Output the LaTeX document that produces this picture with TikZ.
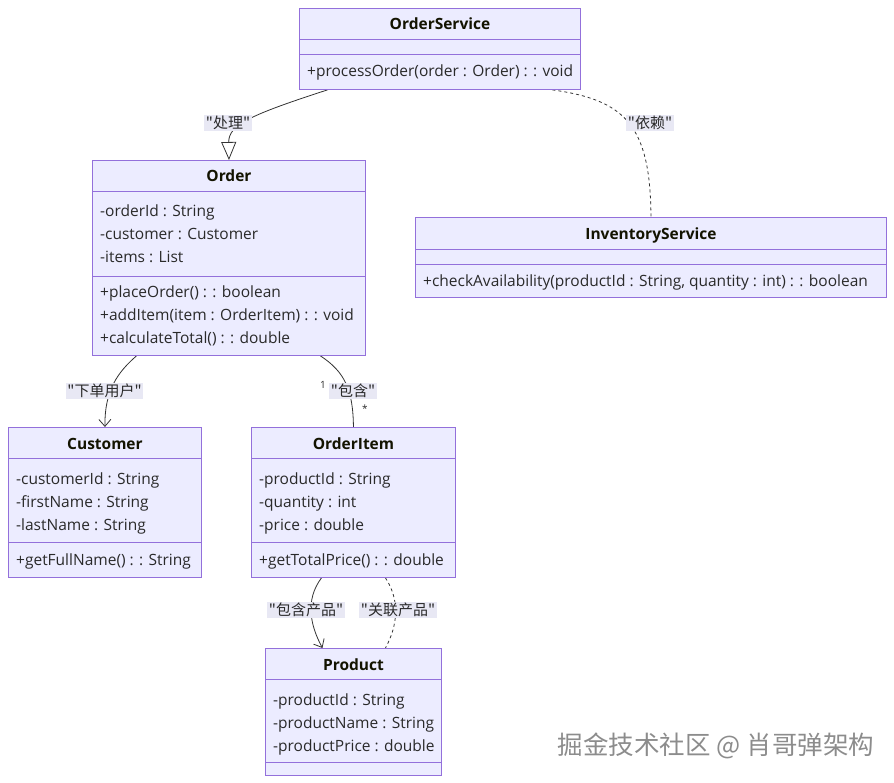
\documentclass[tikz,border=0pt]{standalone}
\usepackage{fontspec}
\setmainfont{Open Sans}
\newfontfamily\cjk{Noto Sans CJK SC}
\usetikzlibrary{arrows.meta, backgrounds}
\definecolor{umlfill}{HTML}{ECECFF}
\definecolor{umlline}{HTML}{9370DB}
\definecolor{umltext}{HTML}{2A2A2A}
\definecolor{umltitle}{HTML}{131300}
\definecolor{edgebg}{HTML}{E8E8F4}
\definecolor{edgeline}{HTML}{333333}
\tikzset{
  %% ---- class boxes ----
  classbox/.style = {rectangle, draw=umlline, line width=0.9pt,
                     fill=umlfill, inner sep=0pt, anchor=north west},
  divider/.style  = {draw=umlline, line width=0.9pt},
  ctitle/.style   = {anchor=base, inner sep=0pt, text=umltitle,
                     font=\fontsize{15.5}{18}\selectfont\bfseries},
  member/.style   = {anchor=base west, inner sep=0pt, text=umltext,
                     font=\fontsize{15.5}{18}\selectfont},
  %% ---- edge labels ----
  elabel/.style   = {fill=edgebg, inner sep=1.5pt, text=umltext,
                     font=\cjk\fontsize{15}{18}\selectfont},
  mult/.style     = {inner sep=0pt, text=umltext,
                     font=\fontsize{10}{12}\selectfont},
  %% ---- connectors ----
  assoc/.style    = {draw=edgeline, line width=0.8pt},
  dep/.style      = {assoc, dash pattern=on 3pt off 3pt},
  inherit/.style  = {assoc, -{Triangle[open, length=18pt, width=15pt]}},
  navig/.style    = {assoc, -{Straight Barb[length=7pt, width=12pt]}},
}

\begin{document}
\begin{tikzpicture}[x=1pt, y=-1pt]

  \useasboundingbox (0,0) rectangle (894,783);

  %% OrderService
  \node[classbox, minimum width=281pt, minimum height=81pt] (os) at (299,8) {};
  \node[ctitle] (os-t) at ([yshift=-22pt]os.north) {OrderService};
  \draw[divider] ([yshift=-31pt]os.north west) -- ([yshift=-31pt]os.north east);
  \draw[divider] ([yshift=-46pt]os.north west) -- ([yshift=-46pt]os.north east);
  \node[member] (os-m) at ([xshift=8pt, yshift=-69pt]os.north west)
    {+processOrder(order : Order) : : void};

  %% Order
  \node[classbox, minimum width=273pt, minimum height=195pt] (order) at (92,160) {};
  \node[ctitle] (order-t) at ([yshift=-22pt]order.north) {Order};
  \draw[divider] ([yshift=-31pt]order.north west) -- ([yshift=-31pt]order.north east);
  \draw[divider] ([yshift=-116pt]order.north west) -- ([yshift=-116pt]order.north east);
  \foreach \txt [count=\i from 0] in {-orderId : String, -customer : Customer, -items : List}
    \node[member] (order-a\i) at ([xshift=8pt, yshift=-57pt-23pt*\i]order.north west) {\txt};
  \foreach \txt [count=\i from 0] in {+placeOrder() : : boolean,
      +addItem(item : OrderItem) : : void, +calculateTotal() : : double}
    \node[member] (order-m\i) at ([xshift=8pt, yshift=-138pt-23pt*\i]order.north west) {\txt};

  %% InventoryService
  \node[classbox, minimum width=471pt, minimum height=80pt] (inv) at (415,217) {};
  \node[ctitle] (inv-t) at ([yshift=-23pt]inv.north) {InventoryService};
  \draw[divider] ([yshift=-32pt]inv.north west) -- ([yshift=-32pt]inv.north east);
  \draw[divider] ([yshift=-47pt]inv.north west) -- ([yshift=-47pt]inv.north east);
  \node[member] (inv-m) at ([xshift=8pt, yshift=-70pt]inv.north west)
    {+checkAvailability(productId : String, quantity : int) : : boolean};

  %% Customer
  \node[classbox, minimum width=193pt, minimum height=150pt] (cust) at (8,427) {};
  \node[ctitle] (cust-t) at ([yshift=-22pt]cust.north) {Customer};
  \draw[divider] ([yshift=-31pt]cust.north west) -- ([yshift=-31pt]cust.north east);
  \draw[divider] ([yshift=-115pt]cust.north west) -- ([yshift=-115pt]cust.north east);
  \foreach \txt [count=\i from 0] in {-customerId : String, -firstName : String, -lastName : String}
    \node[member] (cust-a\i) at ([xshift=8pt, yshift=-57pt-23pt*\i]cust.north west) {\txt};
  \node[member] (cust-m) at ([xshift=8pt, yshift=-138pt]cust.north west)
    {+getFullName() : : String};

  %% OrderItem
  \node[classbox, minimum width=204pt, minimum height=150pt] (oi) at (251,427) {};
  \node[ctitle] (oi-t) at ([yshift=-22pt]oi.north) {OrderItem};
  \draw[divider] ([yshift=-31pt]oi.north west) -- ([yshift=-31pt]oi.north east);
  \draw[divider] ([yshift=-115pt]oi.north west) -- ([yshift=-115pt]oi.north east);
  \foreach \txt [count=\i from 0] in {-productId : String, -quantity : int, -price : double}
    \node[member] (oi-a\i) at ([xshift=8pt, yshift=-57pt-23pt*\i]oi.north west) {\txt};
  \node[member] (oi-m) at ([xshift=8pt, yshift=-138pt]oi.north west)
    {+getTotalPrice() : : double};

  %% Product
  \node[classbox, minimum width=176pt, minimum height=127pt] (prod) at (265,648) {};
  \node[ctitle] (prod-t) at ([yshift=-22pt]prod.north) {Product};
  \draw[divider] ([yshift=-31pt]prod.north west) -- ([yshift=-31pt]prod.north east);
  \draw[divider] ([yshift=-114pt]prod.north west) -- ([yshift=-114pt]prod.north east);
  \foreach \txt [count=\i from 0] in {-productId : String, -productName : String, -productPrice : double}
    \node[member] (prod-a\i) at ([xshift=8pt, yshift=-57pt-23pt*\i]prod.north west) {\txt};

  %% edge labels
  \node[elabel] (l-proc) at (228,123) {"处理"};
  \node[elabel] (l-dep)  at (650,123) {"依赖"};
  \node[elabel] (l-cust) at (104.5,391) {"下单用户"};
  \node[elabel] (l-item) at (353,391) {"包含"};
  \node[mult]   (m-one)  at (323,385) {1};
  \node[mult]   (m-many) at (365,409) {*};
  \node[elabel] (l-prod) at (306,610) {"包含产品"};
  \node[elabel] (l-rel)  at (398,610) {"关联产品"};

  %% connectors
  \begin{scope}[on background layer]
    \draw[inherit] ([xshift=-112.5pt]os.south) .. controls (250,115) and (228.5,125) .. (order.north);
    \draw[dep] ([xshift=112.5pt]os.south) .. controls (625,100) and (650.5,125) .. (inv.north);
    \draw[navig] ([xshift=-92.5pt]order.south) .. controls (118,372) and (104.5,390) .. (cust.north);
    \draw[assoc] ([xshift=91.5pt]order.south) .. controls (345,372) and (353,390) .. (oi.north);
    \draw[navig] ([xshift=-32pt]oi.south) .. controls (305,600) and (310,625) .. ([xshift=-31pt]prod.north);
    \draw[dep] ([xshift=32pt]oi.south) .. controls (400,600) and (398,625) .. ([xshift=32pt]prod.north);
  \end{scope}

  %% watermark
  \node[text=black!45, font=\cjk\fontsize{25.5}{28}\selectfont] (mark) at (716,746)
    {掘金技术社区 @ 肖哥弹架构};

\end{tikzpicture}
\end{document}
